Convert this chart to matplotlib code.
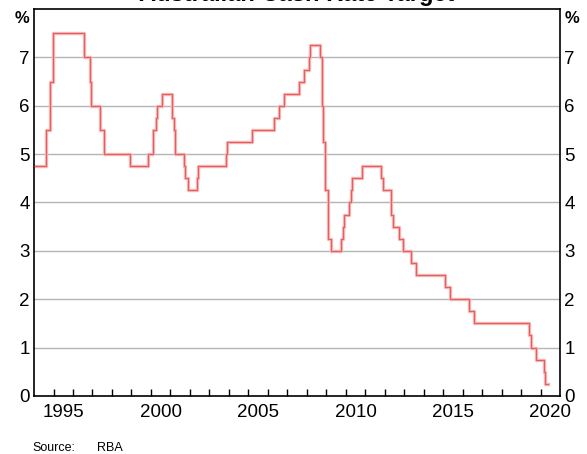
import pandas as pd
import matplotlib.pyplot as plt
from matplotlib.ticker import FixedLocator, NullFormatter

plt.rcParams['font.family'] = ['Liberation Sans', 'DejaVu Sans']

# RBA cash rate target changes (effective dates)
dates = [
    "1993-02-23", "1994-08-17", "1994-10-24", "1994-12-14", "1996-07-31",
    "1996-11-06", "1996-12-11", "1997-05-23", "1997-07-30", "1998-12-02",
    "1999-11-03", "2000-02-02", "2000-04-05", "2000-05-03", "2000-08-02",
    "2001-02-07", "2001-03-07", "2001-04-04", "2001-09-05", "2001-10-03",
    "2001-12-05", "2002-05-08", "2002-06-05", "2003-11-05", "2003-12-03",
    "2005-03-02", "2006-05-03", "2006-08-02", "2006-11-08", "2007-08-08",
    "2007-11-07", "2008-02-06", "2008-03-05", "2008-09-03", "2008-10-08",
    "2008-11-05", "2008-12-03", "2009-02-04", "2009-04-08", "2009-10-07",
    "2009-11-04", "2009-12-02", "2010-03-03", "2010-04-07", "2010-05-05",
    "2010-11-03", "2011-11-02", "2011-12-07", "2012-05-02", "2012-06-06",
    "2012-10-03", "2012-12-05", "2013-05-08", "2013-08-07", "2015-02-04",
    "2015-05-06", "2016-05-04", "2016-08-03", "2019-06-05", "2019-07-03",
    "2019-10-02", "2020-03-04", "2020-03-20", "2020-05-15",
]
rates = [
    4.75, 5.50, 6.50, 7.50, 7.00,
    6.50, 6.00, 5.50, 5.00, 4.75,
    5.00, 5.50, 5.75, 6.00, 6.25,
    5.75, 5.50, 5.00, 4.75, 4.50,
    4.25, 4.50, 4.75, 5.00, 5.25,
    5.50, 5.75, 6.00, 6.25, 6.50,
    6.75, 7.00, 7.25, 7.00, 6.00,
    5.25, 4.25, 3.25, 3.00, 3.25,
    3.50, 3.75, 4.00, 4.25, 4.50,
    4.75, 4.50, 4.25, 3.75, 3.50,
    3.25, 3.00, 2.75, 2.50, 2.25,
    2.00, 1.75, 1.50, 1.25, 1.00,
    0.75, 0.50, 0.25, 0.25,
]
year_labels = ["1995", "2000", "2005", "2010", "2015", "2020"]
y_ticks = [0, 1, 2, 3, 4, 5, 6, 7]

d = pd.to_datetime(pd.Series(dates))
x = d.dt.year + (d.dt.dayofyear - 1) / 365.25

fig = plt.figure(figsize=(5.87, 4.54), dpi=100)
ax = fig.add_axes([0.058, 0.128, 0.896, 0.852])

for yv in y_ticks[1:]:
    ax.axhline(yv, color="#b4b4b4", lw=1.0, zorder=1)

# soft pink halo with a thin red core, like the reference rendering
ax.step(x, rates, where="post", color="#f5b6b6", lw=2.4, zorder=2)
ax.step(x, rates, where="post", color="#e03030", lw=0.8, alpha=0.65, zorder=3)

ax.set_xlim(1994.0, 2021.0)
ax.set_ylim(0, 8)

# year ticks at year starts, labels centred on the year
ax.xaxis.set_major_locator(FixedLocator(range(1995, 2021)))
ax.xaxis.set_major_formatter(NullFormatter())
ax.xaxis.set_minor_locator(FixedLocator([int(s) + 0.5 for s in year_labels]))
ax.set_xticklabels(year_labels, minor=True)
ax.tick_params(axis="x", which="major", direction="in", length=5, width=1, color="black")
ax.tick_params(axis="x", which="minor", length=0, pad=6, labelsize=13.5)

ax.set_yticks(y_ticks)
ax.set_yticklabels([str(v) for v in y_ticks])
ax.tick_params(axis="y", length=0, pad=3, labelsize=13.5, labelright=True)

for s in ax.spines.values():
    s.set_linewidth(1.2)
    s.set_color("black")

ax.text(-0.008, 7.8, "%", transform=ax.get_yaxis_transform(), ha="right", va="center",
        fontsize=12, fontweight="bold")
ax.text(1.008, 7.8, "%", transform=ax.get_yaxis_transform(), ha="left", va="center",
        fontsize=12, fontweight="bold")

fig.text(0.505, 1.012, "Australian Cash Rate Target", ha="center", va="center",
         fontsize=17, fontweight="bold")
fig.text(0.056, 0.013, "Source:", fontsize=9, va="center")
fig.text(0.165, 0.013, "RBA", fontsize=9, va="center")

fig.savefig("out.png", dpi=100)
